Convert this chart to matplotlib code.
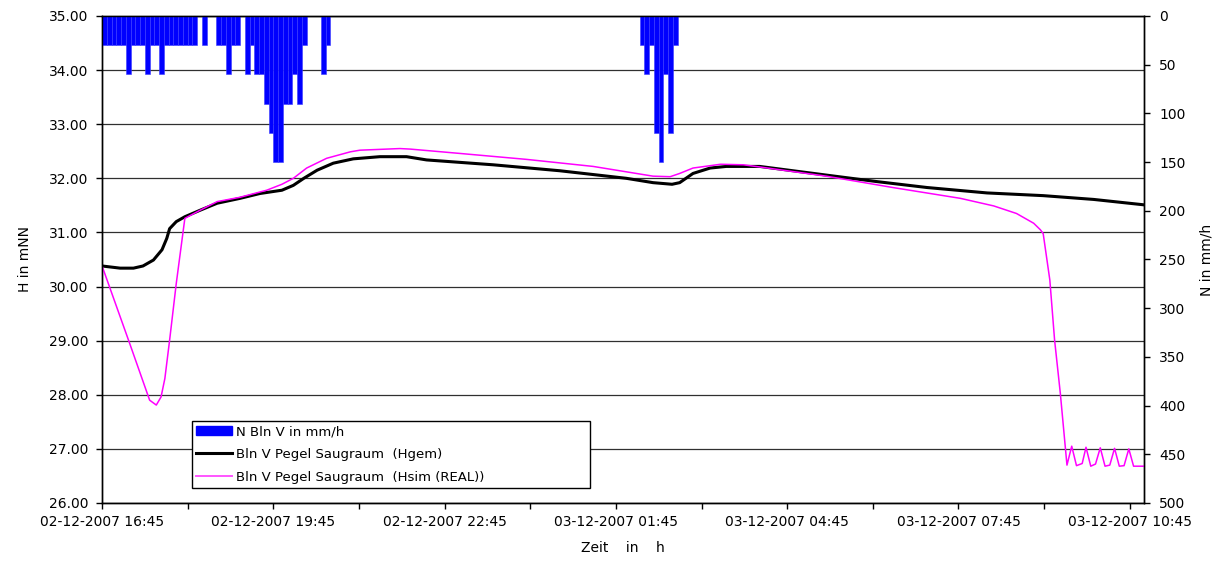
# Pegel Saugraum Bln V vs. Niederschlag, 02./03.12.2007

import matplotlib
matplotlib.use("Agg")
import matplotlib.pyplot as plt
import matplotlib.dates as mdates
from matplotlib.patches import Patch
from matplotlib.lines import Line2D
import pandas as pd

plt.rcParams["font.family"] = ["DejaVu Sans"]

START = pd.Timestamp("2007-12-02 16:45")
END_MIN = 1095  # axis runs a little past 10:45

# Niederschlag N Bln V (mm/h), 5-min columns, minutes after 16:45
rain_min = [0, 5, 10, 15, 20, 25, 30, 35, 40, 45, 50, 55, 60, 65, 70, 75, 80, 85, 90, 95,
            105,
            120, 125, 130, 135, 140,
            150, 155, 160, 165, 170, 175, 180, 185, 190, 195, 200, 205, 210,
            230, 235,
            565, 570, 575, 580, 585, 590, 595, 600]
rain_val = [30, 30, 30, 30, 30, 60, 30, 30, 30, 60, 30, 30, 60, 30, 30, 30, 30, 30, 30, 30,
            30,
            30, 30, 60, 30, 30,
            60, 30, 60, 60, 90, 120, 150, 150, 90, 90, 60, 90, 30,
            60, 30,
            30, 60, 30, 120, 150, 60, 120, 30]

# Pegel Saugraum (Hgem), mNN
hgem_min = [0, 19, 33, 43, 54, 63, 68, 71, 78, 87, 103, 121, 145, 166, 189, 201, 212, 226,
            243, 264, 292, 320, 341, 411, 481, 551, 579, 599, 607, 621, 639, 656, 691,
            761, 814, 867, 930, 989, 1042, 1095]
hgem_val = [30.38, 30.34, 30.34, 30.38, 30.49, 30.68, 30.89, 31.07, 31.20, 31.29, 31.41,
            31.54, 31.63, 31.72, 31.78, 31.87, 32.00, 32.15, 32.28, 32.36, 32.40, 32.40,
            32.34, 32.25, 32.14, 32.00, 31.92, 31.89, 31.92, 32.09, 32.19, 32.22, 32.22,
            32.06, 31.94, 31.83, 31.73, 31.68, 31.61, 31.51]

# Pegel Saugraum (Hsim (REAL)), mNN
hsim_min = [0, 29, 50, 57, 62, 66, 71, 78, 87, 103, 121, 145, 173, 189, 201, 215, 236,
            261, 271, 313, 324, 376, 446, 516, 579, 597, 607, 621, 650, 674, 691, 761, 831,
            902, 937, 961, 979, 986, 989, 996, 1001, 1007, 1014, 1019, 1024, 1030, 1034,
            1039, 1044, 1049, 1054, 1059, 1064, 1069, 1074, 1079, 1084, 1089, 1095]
hsim_val = [30.38, 28.95, 27.90, 27.81, 27.96, 28.30, 29.01, 30.06, 31.26, 31.41,
            31.57, 31.65, 31.78, 31.89, 32.00, 32.19, 32.37, 32.49, 32.52, 32.55, 32.54,
            32.46, 32.35, 32.22, 32.04, 32.03, 32.09, 32.19, 32.26, 32.25, 32.21, 32.04,
            31.83, 31.63, 31.49, 31.35, 31.17, 31.05, 30.98, 30.12, 29.01, 28.03, 26.70,
            27.05, 26.69, 26.73, 27.03, 26.68, 26.72, 27.02, 26.68, 26.70, 27.01, 26.68,
            26.69, 27.00, 26.68, 26.68, 26.68]


def to_num(minutes):
    return mdates.date2num(START + pd.to_timedelta(minutes, unit="min"))


fig = plt.figure(figsize=(12.15, 5.61), dpi=100)
ax = fig.add_axes([0.084, 0.1034, 0.8576, 0.8681])
ax2 = ax.twinx()

# Pegel lines (left axis)
ax.plot(to_num(hgem_min), hgem_val, color="black", linewidth=2.2, zorder=3)
ax.plot(to_num(hsim_min), hsim_val, color="#FF00FF", linewidth=1.1, zorder=4)

ax.set_ylim(26, 35)
ax.set_yticks(range(26, 36))
ax.yaxis.set_major_formatter(plt.FormatStrFormatter("%.2f"))
ax.grid(axis="y", color="#303030", linewidth=0.9)
ax.set_axisbelow(True)
ax.set_ylabel("H in mNN", fontsize=10, labelpad=12)

# x axis: labels every 3 h, ticks every 1.5 h
ax.set_xlim(to_num(0), to_num(END_MIN))
ax.set_xticks(mdates.date2num(pd.date_range(START, periods=7, freq="3h")))
ax.set_xticks(mdates.date2num(pd.date_range(START, periods=13, freq="90min")), minor=True)
ax.xaxis.set_major_formatter(mdates.DateFormatter("%d-%m-%Y %H:%M"))
ax.set_xlabel("Zeit    in    h", fontsize=10, labelpad=8)

# Niederschlag columns (right axis, inverted)
ax2.bar(to_num(rain_min), rain_val, width=5 / 1440, align="edge",
        color="#0000FF", edgecolor="#3a3aff", linewidth=0.4, zorder=2)
ax2.set_ylim(500, 0)
ax2.set_yticks(range(0, 501, 50))
ax2.set_ylabel("N in mm/h", fontsize=10, labelpad=10)

for a in (ax, ax2):
    a.tick_params(axis="both", which="both", direction="out", length=4,
                  width=1, labelsize=10, colors="black")
    for s in a.spines.values():
        s.set_color("black")
        s.set_linewidth(1)
ax.tick_params(axis="y", pad=6)
ax.tick_params(axis="x", pad=5)
ax2.tick_params(axis="y", pad=7)

handles = [
    Patch(facecolor="#0000FF", edgecolor="#0000FF", label="N Bln V in mm/h"),
    Line2D([0], [0], color="black", linewidth=2.2, label="Bln V Pegel Saugraum  (Hgem)"),
    Line2D([0], [0], color="#FF55FF", linewidth=1.4, label="Bln V Pegel Saugraum  (Hsim (REAL))"),
]
leg = ax2.legend(handles=handles, loc="lower left", mode="expand",
                 bbox_to_anchor=(0.0864, 0.031, 0.382, 0.142),
                 fontsize=9.5, fancybox=False, framealpha=1, edgecolor="black",
                 handlelength=2.7, handletextpad=0.3, labelspacing=0.75,
                 borderpad=0.3, borderaxespad=0)
leg.get_frame().set_linewidth(1)
leg.set_zorder(10)

fig.savefig("out.png", dpi=100)
